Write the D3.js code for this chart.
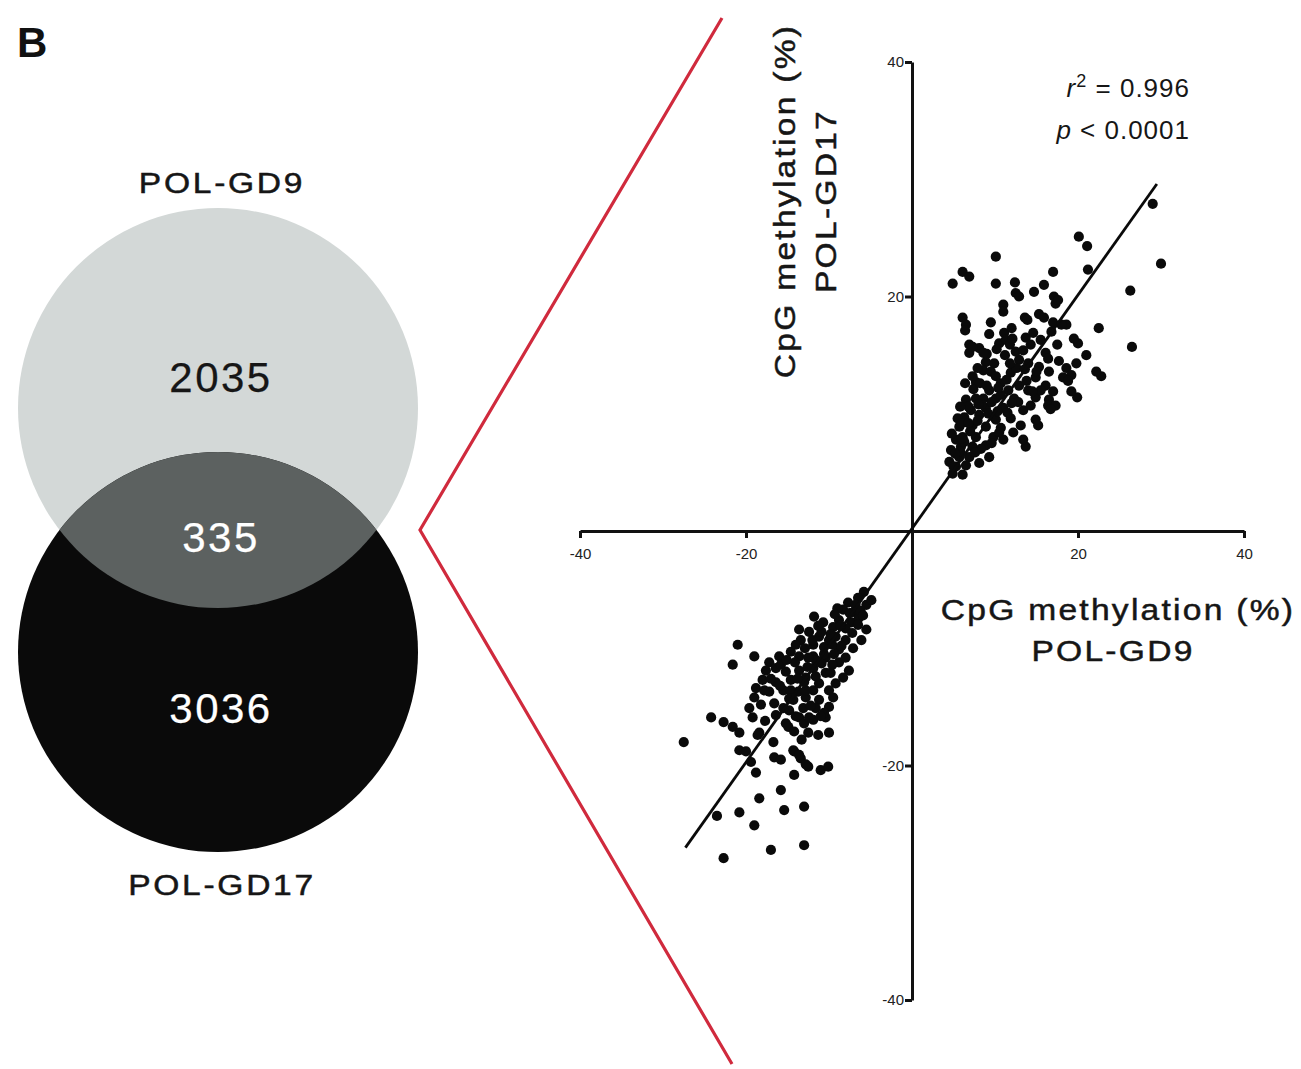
<!DOCTYPE html>
<html>
<head>
<meta charset="utf-8">
<script src="https://cdn.jsdelivr.net/npm/d3@7"></script>
<style>
  html, body { margin: 0; padding: 0; background: #fff; }
  svg { display: block; }
  text { font-family: "Liberation Sans", Arial, Helvetica, sans-serif; }
</style>
</head>
<body>
<svg id="fig" width="1301" height="1069"></svg>
<script>
// ---- Venn diagram: differentially methylated CpG counts ----
const vennSets = ["POL-GD9", "POL-GD17"];
const vennCounts = [2035, 335, 3036];   // GD9 only, shared, GD17 only

// ---- Shared CpGs: methylation difference (%) GD9 (x) vs GD17 (y) ----
const hyperCpGs = [
  [29.0,27.9],[20.1,25.1],[21.1,24.3],[30.0,22.8],[10.1,23.4],[6.1,22.1],[6.9,21.7],[4.9,21.1],
  [17.0,22.1],[21.2,22.3],[10.1,21.1],[12.4,21.2],[12.5,20.3],[14.7,20.4],[15.9,21.0],[17.1,20.0],
  [17.3,19.4],[26.3,20.5],[11.0,19.3],[11.0,18.7],[13.6,18.2],[15.3,18.5],[6.1,18.2],[6.5,17.6],
  [9.5,17.8],[17.0,17.8],[18.6,17.6],[22.5,17.3],[26.5,15.7],[22.8,13.2],[19.9,11.4],[20.0,16.0],
  [15.2,9.0],[13.7,7.2],[6.4,17.1],[9.3,16.8],[11.1,16.9],[13.7,16.5],[19.5,16.4],[6.9,15.9],
  [8.1,15.6],[6.9,15.2],[10.5,16.0],[11.3,16.3],[14.3,15.9],[16.1,15.2],[8.9,14.4],[9.9,14.3],
  [8.6,13.7],[9.5,13.6],[12.9,14.6],[14.0,14.3],[15.3,14.0],[19.8,14.3],[18.6,13.9],[22.2,13.6],
  [16.5,13.6],[18.2,13.1],[11.9,13.5],[14.9,13.1],[7.7,12.7],[10.7,12.6],[12.9,12.4],[16.1,12.4],
  [9.3,12.0],[11.6,12.0],[14.0,12.0],[17.0,11.9],[19.2,11.9],[6.5,11.2],[7.7,11.3],[10.1,11.3],
  [12.3,11.3],[14.9,11.4],[16.5,11.2],[16.4,10.7],[8.9,10.5],[11.0,10.5],[13.4,10.3],[6.3,9.7],
  [8.1,9.9],[9.9,9.7],[11.9,9.6],[14.9,9.5],[5.7,8.9],[7.3,9.0],[8.9,8.9],[10.7,8.8],
  [12.2,8.4],[13.4,7.8],[6.1,8.0],[7.7,8.0],[9.8,8.0],[11.0,7.8],[5.9,7.2],[7.3,7.2],
  [8.9,7.3],[5.7,6.3],[6.9,6.3],[9.3,6.3],[5.3,5.5],[6.5,5.6],[8.1,5.8],[4.9,4.9],
  [6.1,4.8],[19.2,13.3],[18.8,12.8],[17.3,10.7],[16.7,10.4],[16.4,14.7],[7.3,15.7],[11.8,15.9],
  [13.9,18.0],[15.9,18.2],[17.6,19.7],[18.0,17.6],[12.9,20.0],[11.2,15.0],[12.5,15.3],[15.5,16.3],
  [17.5,15.9],[5.3,7.8],[4.7,6.9],[4.5,5.9],[10.1,9.5],[13.1,9.0],[10.7,11.6],[8.6,11.3],
  [7.1,10.3],[5.5,9.6],[14.3,10.7],[15.5,12.0],[21.0,15.0],
  [5.0,5.5],[5.8,6.8],[6.3,7.6],[7.0,8.5],[7.9,9.4],[8.4,10.8],[9.6,11.0],[10.4,12.2],
  [11.4,12.9],[12.6,13.9],[13.4,15.4],[6.8,10.6],[7.4,12.1],[8.2,12.6],[9.0,15.1],[10.2,15.5],
  [12.0,17.3],[14.6,16.9],[16.8,17.0],[7.9,13.9],[6.0,9.2],[8.3,7.0],[9.6,7.5],[11.5,10.1],
  [12.8,11.0],[13.8,12.8],[15.0,13.6],[17.7,14.5],
  [5.2,6.6],[6.0,7.9],[7.6,6.7],[4.8,8.3],[6.8,9.2],[8.0,10.8],[9.2,10.0],[10.3,10.2],
  [12.0,10.9],[7.3,13.2],[8.6,15.2],[10.1,13.2],[9.0,12.4],[11.8,14.3],[13.6,13.8],[14.5,11.9],
  [10.5,8.4],[5.8,10.6],[6.4,12.6],[12.1,16.4]
];
const hypoCpGs = [
  [-5.8,-5.2],[-6.5,-5.7],[-5.5,-6.3],[-7.7,-6.1],[-8.3,-6.7],[-7.0,-6.9],[-5.5,-8.4],[-8.8,-7.6],
  [-7.3,-7.8],[-11.8,-7.3],[-10.7,-7.8],[-9.5,-8.2],[-13.6,-8.4],[-12.4,-8.6],[-11.2,-9.0],[-9.2,-9.0],
  [-8.0,-9.3],[-13.4,-9.3],[-11.9,-9.7],[-10.6,-9.9],[-8.8,-10.1],[-7.1,-10.0],[-21.0,-9.7],[-19.0,-10.7],
  [-21.6,-11.4],[-14.6,-10.3],[-16.0,-10.7],[-17.2,-11.2],[-13.6,-10.7],[-11.9,-10.7],[-10.4,-10.8],[-8.8,-11.2],
  [-7.6,-11.9],[-17.6,-11.9],[-16.4,-11.7],[-15.2,-12.0],[-13.6,-11.9],[-11.9,-11.7],[-10.4,-12.1],[-18.0,-12.7],
  [-16.4,-12.9],[-14.6,-12.7],[-12.8,-12.5],[-11.2,-13.0],[-9.2,-13.0],[-8.3,-12.5],[-18.8,-13.4],[-17.2,-13.7],
  [-15.5,-13.6],[-13.7,-13.7],[-11.9,-13.6],[-10.0,-13.6],[-19.0,-14.2],[-16.6,-14.7],[-14.3,-14.4],[-12.8,-14.2],
  [-11.2,-14.4],[-9.5,-14.2],[-19.6,-15.1],[-14.8,-15.3],[-13.1,-15.1],[-11.6,-15.1],[-10.0,-15.0],[-24.2,-15.9],
  [-22.7,-16.3],[-21.6,-16.7],[-19.2,-15.9],[-13.6,-15.9],[-11.9,-16.1],[-10.4,-15.9],[-15.2,-16.4],[-27.5,-18.0],
  [-20.8,-17.2],[-20.8,-18.7],[-19.4,-19.7],[-18.8,-20.6],[-18.4,-17.2],[-16.7,-18.0],[-16.6,-19.3],[-15.8,-19.5],
  [-14.2,-18.8],[-13.4,-19.4],[-12.5,-20.1],[-11.0,-20.4],[-10.1,-20.1],[-14.2,-20.8],[-15.8,-22.1],[-18.4,-22.8],
  [-20.8,-24.0],[-23.5,-24.3],[-19.0,-25.1],[-15.4,-23.8],[-13.0,-23.5],[-17.0,-27.2],[-13.0,-26.8],[-22.7,-27.9],
  [-14.9,-16.7],[-14.2,-17.1],[-12.5,-17.2],[-11.3,-17.4],[-10.0,-17.2],[-13.0,-16.4],[-10.6,-15.5],[-20.0,-18.8],
  [-18.6,-17.4],[-14.3,-18.7],[-13.6,-19.1],[-12.8,-19.9],[-6.4,-7.4],[-8.0,-8.3],[-10.0,-9.3],[-6.1,-9.3],
  [-11.6,-11.0],[-14.0,-9.7],[-15.8,-11.4],[-12.8,-13.6],[-14.6,-13.6],[-18.2,-14.8],[-16.4,-15.7],[-9.0,-6.6],
  [-4.9,-5.9],
  [-6.8,-6.3],[-7.5,-7.0],[-9.8,-8.8],[-10.9,-8.6],[-12.0,-9.3],[-12.9,-10.0],[-9.4,-10.5],[-10.9,-11.3],
  [-12.6,-11.6],[-14.1,-11.2],[-13.0,-12.9],[-14.8,-14.3],[-15.9,-13.2],[-17.0,-12.6],[-11.6,-12.4],[-9.8,-12.1],
  [-8.0,-10.8],[-12.2,-14.9],[-11.0,-15.8],[-13.3,-17.8],[-15.5,-15.1],[-17.7,-16.2],[-6.5,-8.0],[-9.3,-7.1],
  [-6.2,-6.8],[-7.2,-8.7],[-8.6,-8.1],[-9.6,-9.7],[-10.6,-10.5],[-11.3,-8.1],[-12.5,-10.8],[-13.8,-12.6],
  [-9.6,-11.4],[-8.5,-9.8],[-15.1,-11.0],[-14.0,-15.8],[-12.4,-15.9],[-17.8,-13.6],[-5.9,-7.2]
];
// Linear regression fit, drawn between its end points
const fitLine = [[-27.3, -27.0], [29.5, 29.6]];
const axisTicks = [-40, -20, 20, 40];
const statsLines = [["r", "2", " = 0.996"], ["p", "", " < 0.0001"]];

const svg = d3.select("#fig");
const ink = "#161616";

// Panel letter
svg.append("text").attr("x", 17).attr("y", 57)
  .attr("font-size", 42).attr("font-weight", "bold").attr("fill", "#111").text("B");

// Wide, medium-weight label: text stretched horizontally with a thin outline
const wideText = (parent, t, tx, ty, rot, size, spacing, stretch, colour, weight) => {
  const g = parent.append("g")
    .attr("transform", `translate(${tx},${ty}) rotate(${rot}) scale(${stretch},1)`);
  return g.append("text").attr("x", 0).attr("y", 0)
    .attr("text-anchor", "middle").attr("font-size", size).attr("letter-spacing", spacing)
    .attr("fill", colour).attr("stroke", colour).attr("stroke-width", weight)
    .attr("paint-order", "stroke").text(t);
};

// ---- Venn ----
const venn = svg.append("g");
const cx = 218, cTop = 408, cBot = 652, rad = 200;
venn.append("circle").attr("cx", cx).attr("cy", cTop).attr("r", rad).attr("fill", "#d3d8d7");
venn.append("circle").attr("cx", cx).attr("cy", cBot).attr("r", rad).attr("fill", "#0a0a0a");
const defs = svg.append("defs");
defs.append("clipPath").attr("id", "topClip")
  .append("circle").attr("cx", cx).attr("cy", cTop).attr("r", rad);
venn.append("circle").attr("cx", cx).attr("cy", cBot).attr("r", rad)
  .attr("fill", "#5c6160").attr("clip-path", "url(#topClip)");

wideText(venn, vennSets[0], 222, 193, 0, 30, 2.4, 1.12, ink, 0.5);
wideText(venn, vennSets[1], 222, 895, 0, 30, 2.4, 1.12, ink, 0.5);

const countPos = [[221, 377, ink], [221, 537, "#ffffff"], [221, 708, "#ffffff"]];
vennCounts.forEach((v, i) => {
  wideText(venn, v, countPos[i][0], countPos[i][1] + 15, 0, 42, 2.5, 1, countPos[i][2], 0.25);
});

// Zoom-out wedge linking the shared set to the scatter plot
svg.append("path")
  .attr("d", d3.line()([[722, 18], [420, 530], [732, 1064]]))
  .attr("fill", "none").attr("stroke", "#d02a3d").attr("stroke-width", 3.2);

// ---- Scatter ----
const x = d3.scaleLinear().domain([-40, 40]).range([580, 1244]);
const y = d3.scaleLinear().domain([-40, 40]).range([1000, 62]);

const axStyle = g => {
  g.select(".domain").attr("stroke", "#111").attr("stroke-width", 3);
  g.selectAll(".tick line").attr("stroke", "#111").attr("stroke-width", 3);
  g.selectAll(".tick text").attr("fill", "#222").attr("font-size", 15)
    .attr("font-family", "'Liberation Sans Narrow', 'Arial Narrow', 'Liberation Sans', sans-serif");
};
const tickFmt = d => String(d);

svg.append("g").attr("transform", `translate(0,${y(0)})`)
  .call(d3.axisBottom(x).tickValues(axisTicks).tickSize(7).tickSizeOuter(0).tickPadding(10)
    .tickFormat(tickFmt))
  .call(axStyle);

svg.append("g").attr("transform", `translate(${x(0)},0)`)
  .call(d3.axisLeft(y).tickValues(axisTicks).tickSize(7).tickSizeOuter(0).tickPadding(1)
    .tickFormat(tickFmt))
  .call(axStyle);

const pts = hyperCpGs.concat(hypoCpGs);
svg.append("g").selectAll("circle").data(pts).join("circle")
  .attr("cx", d => x(d[0])).attr("cy", d => y(d[1])).attr("r", 5.1).attr("fill", "#0a0a0a");

svg.append("path")
  .attr("d", d3.line().x(d => x(d[0])).y(d => y(d[1]))(fitLine))
  .attr("fill", "none").attr("stroke", "#0a0a0a").attr("stroke-width", 2.8);

// Axis titles
wideText(svg, "CpG methylation (%)", 1118, 620, 0, 30, 2, 1.12, ink, 0.5);
wideText(svg, "POL-GD9", 1113, 661, 0, 30, 2, 1.12, ink, 0.5);
wideText(svg, "CpG methylation (%)", 795, 201, -90, 30, 2, 1.12, ink, 0.5);
wideText(svg, "POL-GD17", 836, 201, -90, 30, 2, 1.12, ink, 0.5);

// Regression statistics
statsLines.forEach((s, i) => {
  const t = svg.append("text").attr("x", 1190).attr("y", 97 + i * 42)
    .attr("text-anchor", "end").attr("font-size", 26).attr("letter-spacing", 1)
    .attr("fill", ink);
  t.append("tspan").attr("font-style", "italic").text(s[0]);
  if (s[1]) t.append("tspan").attr("font-size", 18).attr("dy", -10).text(s[1]);
  t.append("tspan").attr("dy", s[1] ? 10 : 0).text(s[2]);
});
</script>
</body>
</html>
